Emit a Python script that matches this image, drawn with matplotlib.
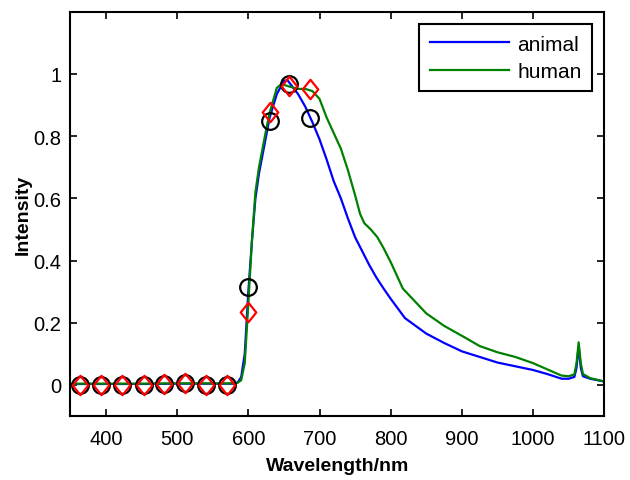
import matplotlib.pyplot as plt
import numpy as np
from matplotlib.path import Path

plt.rcParams['font.family'] = ['Liberation Sans', 'DejaVu Sans']

# spectra
wl_animal = [350, 400, 450, 500, 550, 580, 585, 590, 595, 600, 605, 610, 615, 620, 625,
             630, 640, 650, 655, 660, 670, 680, 690, 700, 710, 720, 730, 740, 750, 760,
             770, 780, 790, 800, 820, 850, 875, 900, 925, 950, 975, 1000, 1020, 1040,
             1050, 1058, 1061, 1064, 1067, 1070, 1080, 1100]
animal = [0.003, 0.003, 0.003, 0.004, 0.004, 0.004, 0.008, 0.025, 0.1, 0.3, 0.46, 0.6, 0.68,
          0.74, 0.8, 0.86, 0.935, 0.978, 0.98, 0.965, 0.935, 0.895, 0.845, 0.79, 0.725, 0.655,
          0.6, 0.535, 0.475, 0.43, 0.385, 0.345, 0.31, 0.277, 0.215, 0.165, 0.135, 0.108, 0.09,
          0.072, 0.06, 0.048, 0.035, 0.02, 0.02, 0.026, 0.055, 0.125, 0.055, 0.028, 0.02,
          0.011]

wl_human = [350, 400, 450, 500, 550, 580, 585, 590, 595, 600, 605, 610, 615, 620, 625,
            630, 640, 645, 650, 660, 670, 680, 690, 700, 710, 720, 730, 740, 750, 757,
            763, 772, 781, 790, 800, 817, 850, 875, 900, 925, 950, 975, 1000, 1020, 1040,
            1050, 1058, 1061, 1064, 1067, 1070, 1080, 1100]
human = [0.004, 0.004, 0.004, 0.005, 0.005, 0.005, 0.007, 0.015, 0.07, 0.26, 0.46, 0.62,
         0.7, 0.76, 0.82, 0.875, 0.955, 0.965, 0.965, 0.958, 0.952, 0.952, 0.945, 0.92, 0.86,
         0.81, 0.76, 0.69, 0.61, 0.55, 0.52, 0.5, 0.476, 0.44, 0.395, 0.31, 0.23, 0.19,
         0.158, 0.125, 0.105, 0.09, 0.07, 0.05, 0.03, 0.028, 0.034, 0.07, 0.137, 0.07,
         0.035, 0.022, 0.011]

# marker points
pt_x = [364, 393, 423, 453, 482, 511, 540, 570, 600, 630, 657, 686]
circ_y = [0, 0, 0, 0, 0.002, 0.005, 0, 0, 0.315, 0.85, 0.968, 0.857]
diam_y = [0, 0, 0, 0, 0.002, 0.005, 0, 0, 0.235, 0.877, 0.962, 0.952]

diamond = Path([(0, 1), (0.8, 0), (0, -1), (-0.8, 0), (0, 1)],
               [Path.MOVETO, Path.LINETO, Path.LINETO, Path.LINETO, Path.CLOSEPOLY])

fig = plt.figure(figsize=(6.3, 4.81), dpi=100)
ax = fig.add_axes([0.1116, 0.133, 0.8476, 0.8404])

ax.plot(pt_x, circ_y, 'o', ms=12, mfc='none', mec='black', mew=1.6, zorder=3)
ax.plot(pt_x, diam_y, marker=diamond, ls='none', ms=14, mfc='none', mec='red', mew=1.6,
        zorder=4)
ax.plot(wl_animal, animal, color='blue', lw=1.6, label='animal', zorder=2)
ax.plot(wl_human, human, color='green', lw=1.6, label='human', zorder=2)

ax.set_xlim(350, 1100)
ax.set_ylim(-0.1, 1.2)
ax.set_xticks(np.arange(400, 1101, 100))
ax.set_yticks([0, 0.2, 0.4, 0.6, 0.8, 1])
ax.set_yticklabels(['0', '0.2', '0.4', '0.6', '0.8', '1'])
ax.tick_params(direction='in', top=True, right=True, length=5, width=1.2, labelsize=14.5)
ax.tick_params(axis='x', pad=9)
ax.tick_params(axis='y', pad=6.5)
for s in ax.spines.values():
    s.set_linewidth(1.5)

ax.set_xlabel('Wavelength/nm', fontsize=14, fontweight='bold', labelpad=7)
ax.set_ylabel('Intensity', fontsize=14, fontweight='bold', labelpad=1)

leg = ax.legend(loc='upper right', fontsize=15, handlelength=3.8, fancybox=False,
                edgecolor='black', framealpha=1, borderaxespad=0.6, labelspacing=0.4,
                borderpad=0.5, handletextpad=0.4)
leg.get_frame().set_linewidth(1.5)

fig.savefig('out.png', dpi=100)
